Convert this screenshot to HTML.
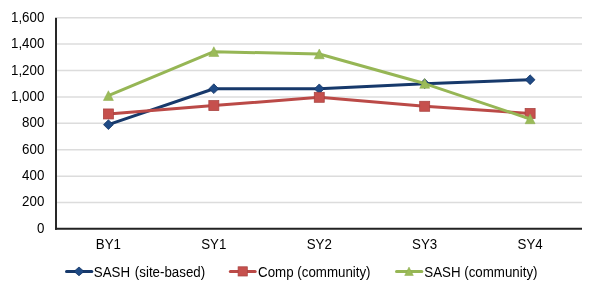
<!DOCTYPE html>
<html><head><meta charset="utf-8"><style>
html,body{margin:0;padding:0;background:#fff;width:594px;height:291px;overflow:hidden}
svg{display:block;will-change:transform}
text{font-family:"Liberation Sans",sans-serif;font-size:13.33px;fill:#000}
</style></head><body>
<svg width="594" height="291" viewBox="0 0 594 291">
<rect width="594" height="291" fill="#fff"/>
<line x1="57" x2="582" y1="202.58" y2="202.58" stroke="#dcdcdc" stroke-width="1.5"/>
<line x1="57" x2="582" y1="176.16" y2="176.16" stroke="#dcdcdc" stroke-width="1.5"/>
<line x1="57" x2="582" y1="149.74" y2="149.74" stroke="#dcdcdc" stroke-width="1.5"/>
<line x1="57" x2="582" y1="123.33" y2="123.33" stroke="#dcdcdc" stroke-width="1.5"/>
<line x1="57" x2="582" y1="96.91" y2="96.91" stroke="#dcdcdc" stroke-width="1.5"/>
<line x1="57" x2="582" y1="70.49" y2="70.49" stroke="#dcdcdc" stroke-width="1.5"/>
<line x1="57" x2="582" y1="44.07" y2="44.07" stroke="#dcdcdc" stroke-width="1.5"/>
<line x1="57" x2="582" y1="17.65" y2="17.65" stroke="#dcdcdc" stroke-width="1.5"/>
<line x1="56" x2="56" y1="17.65" y2="229.7" stroke="#0a0a0a" stroke-width="1.75"/>
<line x1="55" x2="582" y1="228.7" y2="228.7" stroke="#222" stroke-width="2"/>
<text transform="translate(44.3,232.52) scale(1,1.06)" text-anchor="end">0</text>
<text transform="translate(44.3,206.23) scale(1,1.06)" text-anchor="end">200</text>
<text transform="translate(44.3,179.94) scale(1,1.06)" text-anchor="end">400</text>
<text transform="translate(44.3,153.65) scale(1,1.06)" text-anchor="end">600</text>
<text transform="translate(44.3,127.36) scale(1,1.06)" text-anchor="end">800</text>
<text transform="translate(44.3,101.07) scale(1,1.06)" text-anchor="end">1,000</text>
<text transform="translate(44.3,74.78) scale(1,1.06)" text-anchor="end">1,200</text>
<text transform="translate(44.3,48.49) scale(1,1.06)" text-anchor="end">1,400</text>
<text transform="translate(44.3,22.20) scale(1,1.06)" text-anchor="end">1,600</text>
<text transform="translate(108.40,248.8) scale(1,1.06)" text-anchor="middle">BY1</text>
<text transform="translate(213.83,248.8) scale(1,1.06)" text-anchor="middle">SY1</text>
<text transform="translate(319.26,248.8) scale(1,1.06)" text-anchor="middle">SY2</text>
<text transform="translate(424.69,248.8) scale(1,1.06)" text-anchor="middle">SY3</text>
<text transform="translate(530.12,248.8) scale(1,1.06)" text-anchor="middle">SY4</text>
<polyline points="108.40,124.65 213.83,88.72 319.26,88.85 424.69,83.70 530.12,79.73" fill="none" stroke="#17396b" stroke-width="3" stroke-linejoin="round" stroke-linecap="round"/>
<polygon points="108.40,119.75 113.30,124.65 108.40,129.55 103.50,124.65" fill="#1f4a85" stroke="#123262" stroke-width="0.75"/>
<polygon points="213.83,83.82 218.73,88.72 213.83,93.62 208.93,88.72" fill="#1f4a85" stroke="#123262" stroke-width="0.75"/>
<polygon points="319.26,83.95 324.16,88.85 319.26,93.75 314.36,88.85" fill="#1f4a85" stroke="#123262" stroke-width="0.75"/>
<polygon points="424.69,78.80 429.59,83.70 424.69,88.60 419.79,83.70" fill="#1f4a85" stroke="#123262" stroke-width="0.75"/>
<polygon points="530.12,74.83 535.02,79.73 530.12,84.63 525.22,79.73" fill="#1f4a85" stroke="#123262" stroke-width="0.75"/>
<polyline points="108.40,113.95 213.83,105.62 319.26,97.30 424.69,106.28 530.12,113.42" fill="none" stroke="#bb4a47" stroke-width="3" stroke-linejoin="round" stroke-linecap="round"/>
<rect x="103.40" y="108.95" width="10.00" height="10.00" fill="#c6504d" stroke="#a84340" stroke-width="0.75"/>
<rect x="208.83" y="100.62" width="10.00" height="10.00" fill="#c6504d" stroke="#a84340" stroke-width="0.75"/>
<rect x="314.26" y="92.30" width="10.00" height="10.00" fill="#c6504d" stroke="#a84340" stroke-width="0.75"/>
<rect x="419.69" y="101.28" width="10.00" height="10.00" fill="#c6504d" stroke="#a84340" stroke-width="0.75"/>
<rect x="525.12" y="108.42" width="10.00" height="10.00" fill="#c6504d" stroke="#a84340" stroke-width="0.75"/>
<polyline points="108.40,95.72 213.83,51.73 319.26,53.98 424.69,83.56 530.12,118.97" fill="none" stroke="#96b655" stroke-width="3" stroke-linejoin="round" stroke-linecap="round"/>
<polygon points="108.40,90.72 113.40,100.47 103.40,100.47" fill="#9bbb59" stroke="#8aab4c" stroke-width="0.5"/>
<polygon points="213.83,46.73 218.83,56.48 208.83,56.48" fill="#9bbb59" stroke="#8aab4c" stroke-width="0.5"/>
<polygon points="319.26,48.98 324.26,58.73 314.26,58.73" fill="#9bbb59" stroke="#8aab4c" stroke-width="0.5"/>
<polygon points="424.69,78.56 429.69,88.31 419.69,88.31" fill="#9bbb59" stroke="#8aab4c" stroke-width="0.5"/>
<polygon points="530.12,113.97 535.12,123.72 525.12,123.72" fill="#9bbb59" stroke="#8aab4c" stroke-width="0.5"/>
<line x1="66.5" x2="91.8" y1="271.4" y2="271.4" stroke="#17396b" stroke-width="3" stroke-linecap="round"/>
<polygon points="79.00,267.00 84.00,271.40 79.00,275.80 74.00,271.40" fill="#1f4a85" stroke="#123262" stroke-width="0.75"/>
<text transform="translate(93.8,276.6) scale(1,1.06)" word-spacing="1.1">SASH (site-based)</text>
<line x1="230.3" x2="255.2" y1="271.4" y2="271.4" stroke="#bb4a47" stroke-width="3" stroke-linecap="round"/>
<rect x="238.10" y="266.80" width="9.20" height="9.20" fill="#c6504d" stroke="#a84340" stroke-width="0.75"/>
<text transform="translate(258.1,276.6) scale(1,1.06)">Comp (community)</text>
<line x1="396.5" x2="421.8" y1="271.4" y2="271.4" stroke="#96b655" stroke-width="3" stroke-linecap="round"/>
<polygon points="409.00,267.10 413.30,275.48 404.70,275.48" fill="#9bbb59" stroke="#8aab4c" stroke-width="0.5"/>
<text transform="translate(424.3,276.6) scale(1,1.06)">SASH (community)</text>
</svg>
</body></html>
